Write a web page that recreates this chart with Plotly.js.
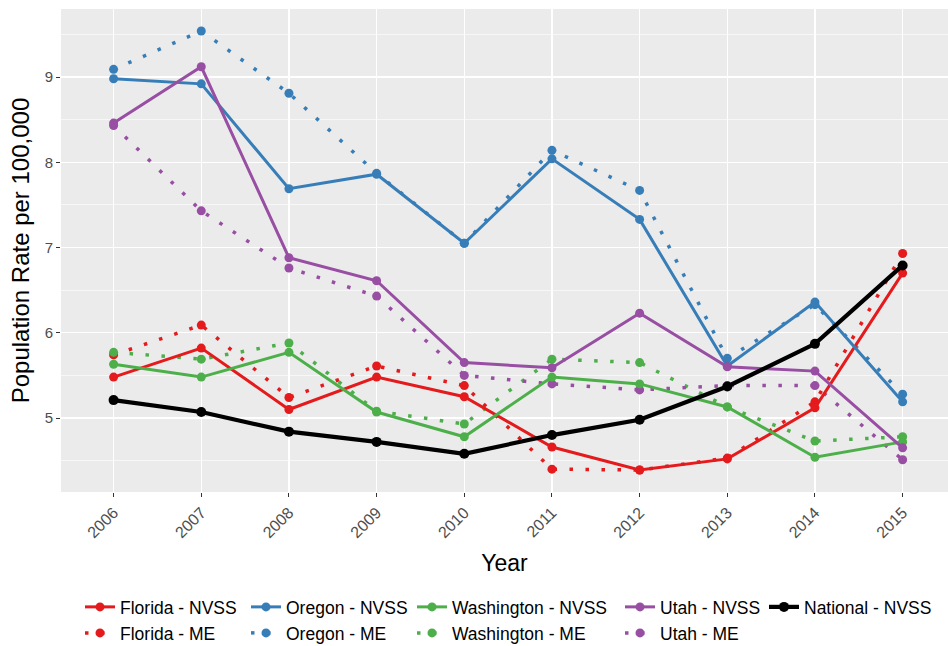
<!DOCTYPE html>
<html>
<head>
<meta charset="utf-8">
<script src="https://cdn.plot.ly/plotly-3.0.1.min.js"></script>
<style>
  html, body { margin: 0; padding: 0; background: #ffffff; }
  #chart { width: 948px; height: 646px; }
</style>
</head>
<body>
<div id="chart"></div>
<script>
// ---- data ----
var years = [2006, 2007, 2008, 2009, 2010, 2011, 2012, 2013, 2014, 2015];

var floridaNVSS    = [5.48, 5.82, 5.10, 5.48, 5.25, 4.66, 4.39, 4.52, 5.12, 6.70];
var floridaME      = [5.74, 6.09, 5.24, 5.61, 5.38, 4.40, 4.39, 4.53, 5.19, 6.93];
var oregonNVSS     = [8.98, 8.92, 7.69, 7.86, 7.05, 8.04, 7.33, 5.61, 6.36, 5.19];
var oregonME       = [9.09, 9.54, 8.81, 7.87, 7.05, 8.14, 7.67, 5.70, 6.33, 5.28];
var washingtonNVSS = [5.63, 5.48, 5.77, 5.07, 4.78, 5.48, 5.40, 5.13, 4.54, 4.72];
var washingtonME   = [5.77, 5.69, 5.88, 5.08, 4.93, 5.69, 5.65, 5.13, 4.73, 4.78];
var utahNVSS       = [8.46, 9.12, 6.88, 6.61, 5.65, 5.59, 6.23, 5.60, 5.55, 4.65];
var utahME         = [8.43, 7.43, 6.76, 6.43, 5.50, 5.40, 5.33, 5.38, 5.38, 4.51];
var nationalNVSS   = [5.21, 5.07, 4.84, 4.72, 4.58, 4.80, 4.98, 5.37, 5.87, 6.79];

var yTickVals  = [5, 6, 7, 8, 9];
var yTickText  = ['5', '6', '7', '8', '9'];
var xTickText  = ['2006', '2007', '2008', '2009', '2010', '2011', '2012', '2013', '2014', '2015'];

// ---- styling ----
var FONT = 'Liberation Sans, Arial, Helvetica, sans-serif';
var RED = '#E41A1C', BLUE = '#377EB8', GREEN = '#4DAF4A', PURPLE = '#984EA3', BLACK = '#000000';
var DOT = '3.5px,12.5px';

function solid(name, y, color, legendId, w, ms) {
  return {
    type: 'scatter', mode: 'lines+markers', name: name, x: years, y: y,
    line: {color: color, width: w || 3},
    marker: {color: color, size: ms || 9},
    legend: legendId, hoverinfo: 'x+y+name'
  };
}
function dotted(name, y, color, legendId) {
  return {
    type: 'scatter', mode: 'lines+markers', name: name, x: years, y: y,
    line: {color: color, width: 3.5, dash: DOT},
    marker: {color: color, size: 9},
    legend: legendId, hoverinfo: 'x+y+name'
  };
}

var traces = [
  dotted('Florida - ME', floridaME, RED, 'legend6'),
  dotted('Oregon - ME', oregonME, BLUE, 'legend7'),
  dotted('Washington - ME', washingtonME, GREEN, 'legend8'),
  dotted('Utah - ME', utahME, PURPLE, 'legend9'),
  solid('Florida - NVSS', floridaNVSS, RED, 'legend'),
  solid('Oregon - NVSS', oregonNVSS, BLUE, 'legend2'),
  solid('Washington - NVSS', washingtonNVSS, GREEN, 'legend3'),
  solid('Utah - NVSS', utahNVSS, PURPLE, 'legend4'),
  solid('National - NVSS', nationalNVSS, BLACK, 'legend5', 4.2, 10)
];

// legend column positions (pixels) -> paper coords
var plotL = 61, plotW = 887, plotT = 9, plotH = 483;
function lx(px) { return (px - plotL) / plotW; }
function ly(py) { return (plotT + plotH - py) / plotH; }
function leg(px, py) {
  return {
    x: lx(px), y: ly(py), xanchor: 'left', yanchor: 'middle',
    orientation: 'h',
    bgcolor: 'rgba(0,0,0,0)', borderwidth: 0,
    font: {family: FONT, size: 17.5, color: '#000'},
    itemclick: false, itemdoubleclick: false
  };
}
var row1 = 607, row2 = 633;
var colX = [80, 246, 412, 620, 764];

var layout = {
  width: 948, height: 646,
  margin: {l: plotL, r: 0, t: plotT, b: 646 - plotT - plotH, pad: 0, autoexpand: false},
  paper_bgcolor: '#ffffff',
  plot_bgcolor: '#EBEBEB',
  font: {family: FONT, color: '#000'},
  showlegend: true,
  xaxis: {
    range: [2005.4, 2005.4 + plotW / 87.67],
    tickmode: 'array', tickvals: years, ticktext: xTickText,
    tickangle: -45,
    tickfont: {family: FONT, size: 16, color: '#4D4D4D'},
    ticks: 'outside', ticklen: 4, tickcolor: '#333333', tickwidth: 1,
    showgrid: true, gridcolor: '#FFFFFF', gridwidth: 1.2,
    zeroline: false, showline: false, automargin: false,
    title: {text: 'Year', font: {family: FONT, size: 23, color: '#000'}, standoff: 14},
    fixedrange: true
  },
  yaxis: {
    range: [4.132, 9.798],
    tickmode: 'array', tickvals: yTickVals, ticktext: yTickText,
    tickfont: {family: FONT, size: 15, color: '#4D4D4D'},
    ticks: 'outside', ticklen: 4, tickcolor: '#333333', tickwidth: 1,
    showgrid: true, gridcolor: '#FFFFFF', gridwidth: 1.2,
    minor: {tickmode: 'linear', tick0: 4.5, dtick: 1, showgrid: true, gridcolor: '#FFFFFF', gridwidth: 0.6, ticks: ''},
    zeroline: false, showline: false, automargin: false,
    title: {text: 'Population Rate per 100,000', font: {family: FONT, size: 24, color: '#000'}, standoff: 8},
    fixedrange: true
  },
  legend:  leg(colX[0], row1),
  legend2: leg(colX[1], row1),
  legend3: leg(colX[2], row1),
  legend4: leg(colX[3], row1),
  legend5: leg(colX[4], row1),
  legend6: leg(colX[0], row2),
  legend7: leg(colX[1], row2),
  legend8: leg(colX[2], row2),
  legend9: leg(colX[3], row2)
};

Plotly.newPlot('chart', traces, layout, {displayModeBar: false, staticPlot: true});
</script>
</body>
</html>
